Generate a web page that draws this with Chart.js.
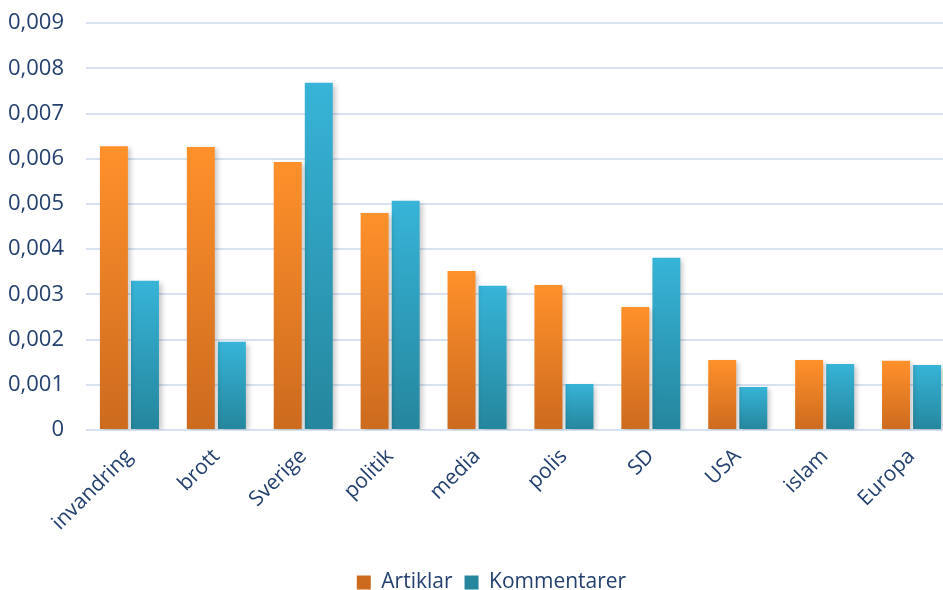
<!DOCTYPE html>
<html>
<head>
<meta charset="utf-8">
<script src="https://cdn.jsdelivr.net/npm/chart.js@4"></script>
<style>
  html, body { margin: 0; padding: 0; background: #fff; overflow: hidden; }
  #frame { width: 943px; height: 590px; position: relative; overflow: hidden; }
  #wrap { width: 958px; height: 615px; position: absolute; left: 0; top: -12px; }
</style>
</head>
<body>
<div id="frame"><div id="wrap"><canvas id="myChart"></canvas></div></div>
<script>
// data block
const categories = ['invandring', 'brott', 'Sverige', 'politik', 'media', 'polis', 'SD', 'USA', 'islam', 'Europa'];
const artiklar = [0.00628, 0.00626, 0.00593, 0.00480, 0.00352, 0.00321, 0.00272, 0.00155, 0.00155, 0.00153];
const kommentarer = [0.00330, 0.00195, 0.00768, 0.00507, 0.00319, 0.00102, 0.00381, 0.00095, 0.00146, 0.00144];
const yTickLabels = ['0', '0,001', '0,002', '0,003', '0,004', '0,005', '0,006', '0,007', '0,008', '0,009'];

const navy = '#23406F';

// gradient per bar, bright at top and darker at the base
function barGradient(top, bottom, flat) {
    return function (context) {
        const chart = context.chart;
        const area = chart.chartArea;
        if (!area || context.raw === undefined) return flat;
        const yTop = chart.scales.y.getPixelForValue(context.raw);
        const yBot = chart.scales.y.getPixelForValue(0);
        const g = chart.ctx.createLinearGradient(0, yTop, 0, yBot);
        g.addColorStop(0, top);
        g.addColorStop(1, bottom);
        return g;
    };
}

// soft drop shadow behind the bars
const shadowPlugin = {
    id: 'barShadow',
    beforeDatasetsDraw(chart) {
        const c = chart.ctx;
        c.save();
        c.shadowColor = 'rgba(0,0,0,0.22)';
        c.shadowBlur = 5;
        c.shadowOffsetX = 3;
        c.shadowOffsetY = 2;
    },
    afterDatasetsDraw(chart) {
        chart.ctx.restore();
    }
};

// legend sits a bit right of centre in the original
const legendShift = {
    id: 'legendShift',
    afterLayout(chart) {
        chart.legend.left += 14;
        chart.legend.right += 14;
    }
};

const data = {
    labels: categories,
    datasets: [{
            label: 'Artiklar',
            data: artiklar,
            backgroundColor: barGradient('#FF912B', '#CC6A1E', '#E57A22'),
            barPercentage: 0.9,
            categoryPercentage: 0.715
        },
        {
            label: 'Kommentarer',
            data: kommentarer,
            backgroundColor: barGradient('#37B4D8', '#25869D', '#2C9CBB'),
            barPercentage: 0.9,
            categoryPercentage: 0.715
        }
    ]
};

//config block
const config = {
    type: 'bar',
    data: data,
    plugins: [shadowPlugin, legendShift],
    options: {
        responsive: true,
        maintainAspectRatio: false,
        animation: false,
        layout: {
            padding: { top: 0, right: 3, left: 0, bottom: 0 }
        },
        scales: {
            x: {
                grid: { display: false },
                border: { display: false },
                ticks: {
                    color: navy,
                    font: { family: 'Open Sans', size: 21 },
                    minRotation: 45,
                    maxRotation: 45,
                    padding: 6
                },
                afterFit: scale => { scale.height = 130; }
            },
            y: {
                min: 0,
                max: 0.009,
                border: { display: false },
                grid: {
                    color: '#D6E2F0',
                    lineWidth: 2,
                    drawTicks: false
                },
                ticks: {
                    stepSize: 0.001,
                    color: navy,
                    padding: 22,
                    font: { family: 'Open Sans', size: 22 },
                    callback: (v, i) => yTickLabels[i]
                },
                afterFit: scale => { scale.width = 86; }
            }
        },
        plugins: {
            tooltip: { enabled: false },
            legend: {
                position: 'bottom',
                labels: {
                    color: navy,
                    font: { family: 'Open Sans', size: 21 },
                    boxWidth: 14,
                    boxHeight: 14,
                    padding: 12
                }
            }
        }
    }
};

//render block
const myChart = new Chart(document.getElementById('myChart'), config);
</script>
</body>
</html>
